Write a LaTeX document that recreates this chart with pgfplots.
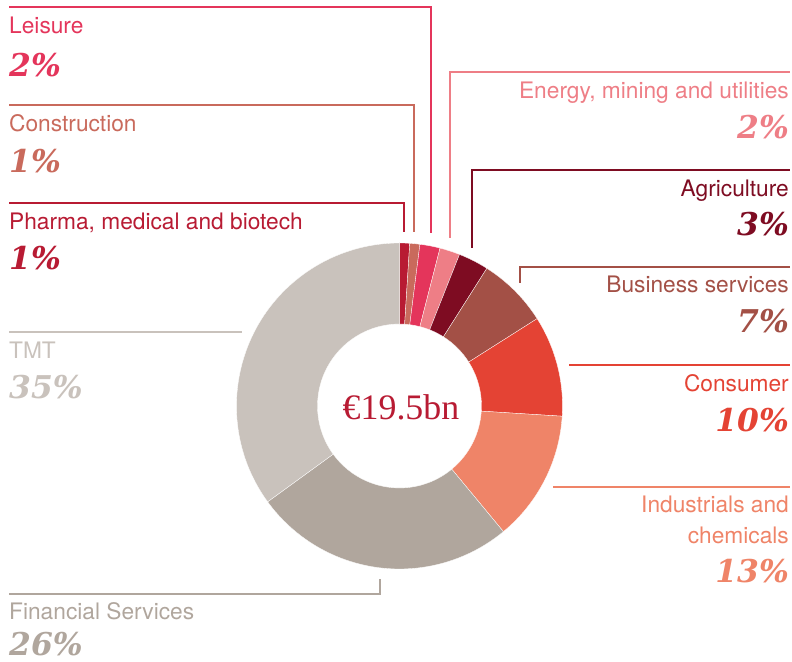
\documentclass[border=0pt]{standalone}
\usepackage{pgfplots}
\pgfplotsset{compat=1.18}
\usepackage{pgfplotstable}
\usetikzlibrary{calc}
\usepackage{fontspec}
\setmainfont{TeX Gyre Heros}
\newfontfamily\pctfamily{DejaVu Serif}
\newfontfamily\numfamily{Liberation Serif}
\definecolor{cPharma}{RGB}{184,27,51}
\definecolor{cConstr}{RGB}{201,106,92}
\definecolor{cLeisure}{RGB}{228,53,91}
\definecolor{cEnergy}{RGB}{238,126,134}
\definecolor{cAgri}{RGB}{126,12,34}
\definecolor{cBusiness}{RGB}{163,80,70}
\definecolor{cConsumer}{RGB}{228,67,52}
\definecolor{cIndustrials}{RGB}{239,132,104}
\definecolor{cFinancial}{RGB}{176,166,157}
\definecolor{cTMT}{RGB}{201,194,188}
% sector shares (%), clockwise from 12 o'clock
\pgfplotstableread{
name value color
Pharma 1 cPharma
Construction 1 cConstr
Leisure 2 cLeisure
Energy 2 cEnergy
Agriculture 3 cAgri
Business 7 cBusiness
Consumer 10 cConsumer
Industrials 13 cIndustrials
Financial 26 cFinancial
TMT 35 cTMT
}\sectordata
\pgfplotstablecreatecol[create col/expr accum={\pgfmathaccuma + \thisrow{value}}{0}]{cum}\sectordata
\newcommand\lbl{\fontsize{22.8}{25}\selectfont}
\newcommand\pct{\pctfamily\bfseries\itshape\fontsize{31.5}{34}\selectfont}
\begin{document}
\begin{tikzpicture}
\path[use as bounding box] (0,0) rectangle (792bp,662bp);
\begin{axis}[at={(0,0)}, anchor=south west, width=792bp, height=662bp,
  scale only axis, xmin=0, xmax=792, ymin=0, ymax=662, hide axis, clip=false]
\addplot[draw=none] coordinates {(0,0) (792,662)};
\coordinate (c) at (axis cs:399.5,256);
\pgfplotsinvokeforeach{0,...,9}{
  \pgfplotstablegetelem{#1}{value}\of\sectordata \let\vl\pgfplotsretval
  \pgfplotstablegetelem{#1}{cum}\of\sectordata \let\cm\pgfplotsretval
  \pgfplotstablegetelem{#1}{color}\of\sectordata \let\cl\pgfplotsretval
  \pgfmathsetmacro\aone{90-3.6*(\cm-\vl)}
  \pgfmathsetmacro\atwo{90-3.6*\cm}
  \edef\temp{\noexpand\fill[\cl, draw=white, line width=0.3bp] ($(c)+(\aone:163bp)$) arc[start angle=\aone, end angle=\atwo, radius=163bp] -- ($(c)+(\atwo:82bp)$) arc[start angle=\atwo, end angle=\aone, radius=82bp] -- cycle;}
  \temp
}
% centre label
\node[anchor=base, font=\numfamily\fontsize{36}{36}\selectfont, text=cPharma, inner sep=0] at (axis cs:401,242) {€19.5bn};
% leader lines
\begin{scope}[line width=1.6bp]
\draw[cLeisure] (axis cs:9,655) -- (axis cs:431,655) -- (axis cs:431,429);
\draw[cConstr] (axis cs:9,557) -- (axis cs:414,557) -- (axis cs:414,430);
\draw[cPharma] (axis cs:9,459) -- (axis cs:404,459) -- (axis cs:404,430);
\draw[cEnergy] (axis cs:450,424) -- (axis cs:450,590) -- (axis cs:790,590);
\draw[cAgri] (axis cs:472,414) -- (axis cs:472,492) -- (axis cs:790,492);
\draw[cBusiness] (axis cs:520,379) -- (axis cs:520,395) -- (axis cs:790,395);
\draw[cConsumer] (axis cs:569,297) -- (axis cs:790,297);
\draw[cIndustrials] (axis cs:553,175) -- (axis cs:790,175);
\draw[cTMT] (axis cs:9,330) -- (axis cs:242,330);
\draw[cFinancial] (axis cs:9,68) -- (axis cs:380,68) -- (axis cs:380,83);
\end{scope}
% left labels
\begin{scope}[every node/.style={anchor=base west, inner sep=0}]
\node[text=cLeisure, font=\lbl] at (axis cs:9,628) {Leisure};
\node[text=cLeisure, font=\pct] at (axis cs:9,585) {2\%};
\node[text=cConstr, font=\lbl] at (axis cs:9,530) {Construction};
\node[text=cConstr, font=\pct] at (axis cs:9,489) {1\%};
\node[text=cPharma, font=\lbl] at (axis cs:9,432) {Pharma, medical and biotech};
\node[text=cPharma, font=\pct] at (axis cs:9,392) {1\%};
\node[text=cTMT, font=\lbl] at (axis cs:9,303) {TMT};
\node[text=cTMT, font=\pct] at (axis cs:9,263) {35\%};
\node[text=cFinancial, font=\lbl] at (axis cs:9,42) {Financial Services};
\node[text=cFinancial, font=\pct] at (axis cs:9,6.5) {26\%};
\end{scope}
% right labels
\begin{scope}[every node/.style={anchor=base east, inner sep=0}]
\node[text=cEnergy, font=\lbl] at (axis cs:789,563) {Energy, mining and utilities};
\node[text=cEnergy, font=\pct] at (axis cs:789,523) {2\%};
\node[text=cAgri, font=\lbl] at (axis cs:789,465) {Agriculture};
\node[text=cAgri, font=\pct] at (axis cs:789,426) {3\%};
\node[text=cBusiness, font=\lbl] at (axis cs:789,369) {Business services};
\node[text=cBusiness, font=\pct] at (axis cs:789,329) {7\%};
\node[text=cConsumer, font=\lbl] at (axis cs:789,270) {Consumer};
\node[text=cConsumer, font=\pct] at (axis cs:789,230) {10\%};
\node[text=cIndustrials, font=\lbl] at (axis cs:789,149) {Industrials and};
\node[text=cIndustrials, font=\lbl] at (axis cs:789,118) {chemicals};
\node[text=cIndustrials, font=\pct] at (axis cs:789,79) {13\%};
\end{scope}
\end{axis}
\end{tikzpicture}
\end{document}
